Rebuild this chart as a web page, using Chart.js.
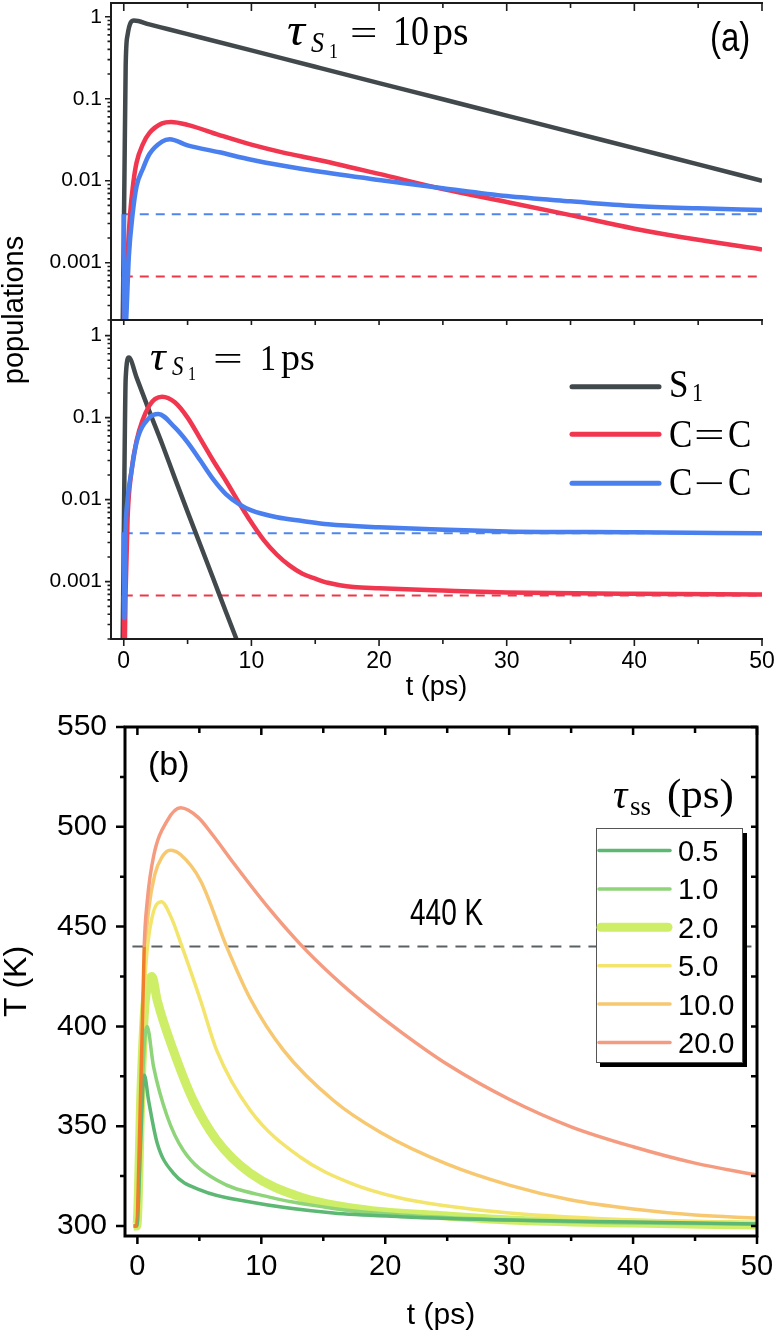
<!DOCTYPE html>
<html>
<head>
<meta charset="utf-8">
<script src="https://cdn.jsdelivr.net/npm/chart.js@4.4.1/dist/chart.umd.min.js"></script>
<style>
  html, body { margin: 0; padding: 0; background: #fff; }
  #page { position: relative; width: 778px; height: 1337px; overflow: hidden; background: #fff; }
  #page canvas { position: absolute; left: 0; }
  #popLabel {
    position: absolute; left: -85px; top: 292px; width: 200px; height: 36px; line-height: 36px;
    text-align: center; font: 29px "Liberation Sans", Arial, sans-serif; color: #000;
    transform: rotate(-90deg);
  }
</style>
</head>
<body>
<div id="page">
  <canvas id="chart-a-top" width="778" height="322" style="top:0px"></canvas>
  <canvas id="chart-a-bottom" width="778" height="387" style="top:318px"></canvas>
  <canvas id="chart-b" width="778" height="637" style="top:700px"></canvas>
  <div id="popLabel">populations</div>
</div>
<script>
// ---- panel (a), tau_S1 = 10 ps ----
var s1Slow_t = [-0.1, 0.05, 0.15, 0.3, 0.8, 2, 3.5, 5, 10, 15, 20, 25, 30, 35, 40, 45, 50];
var s1Slow_p = [0.0001, 0.01, 0.25, 0.6, 0.9, 0.806, 0.703, 0.613, 0.388, 0.245, 0.155, 0.0985, 0.0623, 0.0394, 0.025, 0.0158, 0.01];
var cdcSlow_t = [0, 0.05, 0.15, 0.3, 0.5, 0.75, 1, 1.5, 2, 3, 3.7, 5, 7.5, 10, 12.5, 15, 20, 25, 30, 35, 40, 45, 50];
var cdcSlow_p = [0.00068, 0.0001, 0.00022, 0.0012, 0.004, 0.0095, 0.0166, 0.028, 0.038, 0.05, 0.052, 0.048, 0.036, 0.0275, 0.022, 0.0183, 0.0121, 0.0079, 0.0055, 0.0038, 0.0026, 0.0019, 0.00145];
var ccSlow_t = [0, 0.08, 0.2, 0.4, 0.7, 1, 1.5, 2, 3, 3.6, 5, 7.5, 10, 12.5, 15, 20, 25, 30, 35, 40, 45, 50];
var ccSlow_p = [0.0039, 0.0001, 0.00022, 0.0012, 0.004, 0.0085, 0.014, 0.021, 0.03, 0.032, 0.027, 0.0222, 0.018, 0.0152, 0.0131, 0.0102, 0.0081, 0.0065, 0.0056, 0.0049, 0.0046, 0.0044];

// ---- panel (a), tau_S1 = 1 ps ----
var s1Fast_t = [-0.1, 0.05, 0.15, 0.4, 1, 2, 3, 4, 5, 6, 7, 8, 9];
var s1Fast_p = [0.0001, 0.02, 0.3, 0.54, 0.31, 0.12, 0.048, 0.0183, 0.0071, 0.0028, 0.0011, 0.00043, 0.00017];
var cdcFast_t = [0, 0.06, 0.15, 0.3, 0.6, 1, 2, 3, 4, 5, 6, 7, 8, 9, 10, 11, 12, 13, 14, 15, 16, 18, 20, 25, 30, 40, 50];
var cdcFast_p = [0.00068, 0.00015, 0.0008, 0.006, 0.022, 0.052, 0.14, 0.18, 0.154, 0.1, 0.055, 0.03, 0.017, 0.0093, 0.00525, 0.00316, 0.00213, 0.00157, 0.00125, 0.00109, 0.00097, 0.00086, 0.00083, 0.00078, 0.00074, 0.00071, 0.0007];
var ccFast_t = [0, 0.05, 0.12, 0.3, 0.6, 1, 2, 2.7, 4, 5, 6, 7, 8, 9, 10, 12, 14, 16, 20, 30, 40, 50];
var ccFast_p = [0.004, 0.00036, 0.003, 0.01, 0.022, 0.05, 0.1, 0.111, 0.076, 0.05, 0.03, 0.0178, 0.0117, 0.0089, 0.0074, 0.0061, 0.0055, 0.005, 0.0046, 0.0041, 0.004, 0.0039];

// equilibrium levels (dashed)
var eqTime = [0, 50];
var eqCC = [0.0039, 0.0039];
var eqCdC = [0.00068, 0.00068];

// ---- panel (b), temperature for several tau_ss ----
var tss05_t = [-0.3, -0.05, 0.25, 0.45, 0.56, 0.9, 1.6, 2.9, 5.1, 9.1, 15.8, 21.2, 30, 40, 50];
var tss05_T = [300, 300, 340, 370, 375.5, 363, 341.5, 326.5, 318, 312, 306.5, 304.7, 303, 302, 301];
var tss10_t = [-0.3, -0.05, 0.3, 0.55, 0.78, 1.3, 2.4, 3.7, 6.4, 10.5, 15.8, 21.2, 30, 40, 50];
var tss10_T = [300, 300, 355, 390, 400, 380, 355, 338, 323, 314.7, 308.8, 305.5, 303, 301.5, 301];
var tss20_t = [-0.3, -0.05, 0.3, 0.6, 0.9, 1.18, 1.6, 2.9, 4.5, 6.4, 9.1, 13.1, 18.5, 25, 30, 40, 50];
var tss20_T = [300, 300, 370, 410, 422, 425, 413, 388, 363, 343, 326.5, 314.7, 308, 305, 303, 301.5, 300.5];
var tss50_t = [-0.3, -0.05, 0.4, 0.7, 1.2, 1.94, 2.7, 3.6, 5.1, 6.4, 9.1, 13.1, 17.2, 21.2, 25, 30, 40, 50];
var tss50_T = [300, 300, 395, 432, 455, 462.5, 455, 440, 413, 388, 358, 334.7, 321.5, 314, 310, 306.5, 303, 301.7];
var tss100_t = [-0.3, -0.05, 0.4, 0.6, 0.9, 1.4, 2, 2.66, 3.5, 5.1, 7.2, 9.1, 11.8, 15.8, 19.6, 25, 30, 35, 40, 45, 50];
var tss100_T = [300, 300, 398, 435, 458, 476, 485, 488.3, 486, 473, 440, 414, 388, 363, 347, 331, 320.5, 313, 308.5, 305.5, 304];
var tss200_t = [-0.3, -0.15, 0.4, 0.55, 0.8, 1.3, 2.4, 3.5, 4.9, 6, 7.8, 10.5, 13.1, 15.8, 18.5, 21.2, 25, 30, 35, 40, 45, 50];
var tss200_T = [300, 300, 400, 440, 463, 485, 503, 509.5, 504.7, 496.5, 481.5, 460, 441.5, 425, 410.5, 397.5, 381, 363.5, 349.7, 339.7, 331.5, 325.5];
var hotTime = [-0.4, 50];
var hotLevel = [440, 440];

// ---- ticks ----
var tMajor = [0, 10, 20, 30, 40, 50];
var tMinor = [5, 15, 25, 35, 45];
var popMajor = [0.001, 0.01, 0.1, 1];
var popLabels = ['0.001', '0.01', '0.1', '1'];
var popMinor = [];
[0.0001, 0.001, 0.01, 0.1].forEach(function (d) {
    for (var k = 2; k <= 9; k++) popMinor.push(d * k);
});
var tempMajor = [300, 350, 400, 450, 500, 550];
var tempMinor = [325, 375, 425, 475, 525];

var SERIF = '"Liberation Serif", "DejaVu Serif", serif';
var SANS = '"Liberation Sans", Arial, sans-serif';

function pts(ts, vs) {
    return ts.map(function (t, i) { return {x: t, y: vs[i]}; });
}

function noPad(s) {
    s.paddingTop = 0; s.paddingBottom = 0; s.paddingLeft = 0; s.paddingRight = 0;
}

// axis frame + ticks drawn through the chart scales
var framePlugin = {
    id: 'frame',
    afterDatasetsDraw: function (chart, args, opts) {
        var ctx = chart.ctx, a = chart.chartArea;
        var xs = chart.scales.x, ys = chart.scales.y;
        ctx.save();
        ctx.strokeStyle = opts.color;
        ctx.lineWidth = opts.width;
        ctx.lineCap = 'square';
        ctx.beginPath();
        opts.edges.forEach(function (e) {
            if (e === 'left') { ctx.moveTo(a.left, a.top); ctx.lineTo(a.left, a.bottom); }
            if (e === 'right') { ctx.moveTo(a.right, a.top); ctx.lineTo(a.right, a.bottom); }
            if (e === 'top') { ctx.moveTo(a.left, a.top); ctx.lineTo(a.right, a.top); }
            if (e === 'bottom') { ctx.moveTo(a.left, a.bottom); ctx.lineTo(a.right, a.bottom); }
        });
        ctx.stroke();
        ctx.lineCap = 'butt';
        ctx.lineWidth = opts.tickWidth;
        ctx.beginPath();
        opts.ticks.forEach(function (t) {
            var scale = (t.edge === 'top' || t.edge === 'bottom') ? xs : ys;
            t.values.forEach(function (v) {
                var p = scale.getPixelForValue(v);
                if (t.edge === 'top') { ctx.moveTo(p, a.top); ctx.lineTo(p, a.top + t.len); }
                if (t.edge === 'bottom') { ctx.moveTo(p, a.bottom); ctx.lineTo(p, a.bottom + t.len); }
                if (t.edge === 'left') { ctx.moveTo(a.left, p); ctx.lineTo(a.left - t.len, p); }
                if (t.edge === 'right') { ctx.moveTo(a.right, p); ctx.lineTo(a.right - t.len, p); }
            });
        });
        ctx.stroke();
        ctx.restore();
    }
};

// glyph-by-glyph text (for the math labels)
function drawGlyphs(ctx, list, sy) {
    list.forEach(function (g) {
        ctx.save();
        ctx.fillStyle = g.color || '#000';
        ctx.font = (g.it ? 'italic ' : '') + g.size + 'px ' + (g.sans ? SANS : SERIF);
        ctx.textAlign = 'left';
        ctx.textBaseline = 'alphabetic';
        ctx.translate(g.x, g.y);
        ctx.scale(g.sx || 1, g.sy || sy || 1);
        ctx.fillText(g.t, 0, 0);
        ctx.restore();
    });
}

function popDatasets(s1t, s1p, cdct, cdcp, cct, ccp) {
    return [
        {label: 'S1', data: pts(s1t, s1p), borderColor: '#42494c', borderWidth: 4.5, order: 2},
        {label: 'C=C', data: pts(cdct, cdcp), borderColor: '#f1364f', borderWidth: 4.5, order: 1},
        {label: 'C\u2212C', data: pts(cct, ccp), borderColor: '#4a7fef', borderWidth: 4.5, order: 0},
        {label: 'eqCC', data: pts(eqTime, eqCC), borderColor: '#4f86ee', borderWidth: 2, borderDash: [9, 7], order: 3},
        {label: 'eqCdC', data: pts(eqTime, eqCdC), borderColor: '#ee3848', borderWidth: 2, borderDash: [9, 7], order: 4}
    ];
}

function popOptions(cfg) {
    return {
        responsive: false,
        animation: false,
        layout: {padding: cfg.padding, autoPadding: false},
        elements: {point: {radius: 0}, line: {cubicInterpolationMode: 'monotone', fill: false}},
        plugins: {
            legend: {display: false},
            tooltip: {enabled: false},
            frame: {color: '#1c1c1c', width: 2, tickWidth: 1.6, edges: cfg.edges, ticks: cfg.ticks}
        },
        scales: {
            x: {
                type: 'linear', min: -1, max: 50,
                afterBuildTicks: function (s) { s.ticks = tMajor.map(function (v) { return {value: v}; }); },
                afterFit: function (s) { s.height = cfg.xHeight; noPad(s); },
                ticks: {display: cfg.showX, autoSkip: false, maxRotation: 0, padding: 9, color: '#000',
                        font: {family: SANS, size: 23}},
                grid: {display: false, drawTicks: false},
                border: {display: false},
                title: {display: cfg.showX, text: 't (ps)', color: '#000', font: {family: SANS, size: 27},
                        padding: {top: 0, bottom: 1}}
            },
            y: {
                type: 'logarithmic', min: 0.0002, max: cfg.yMax,
                afterBuildTicks: function (s) { s.ticks = popMajor.map(function (v) { return {value: v}; }); },
                afterFit: function (s) { s.width = 111; noPad(s); },
                ticks: {autoSkip: false, padding: 9, color: '#000', font: {family: SANS, size: 21},
                        callback: function (v) { return popLabels[popMajor.indexOf(v)]; }},
                grid: {display: false, drawTicks: false},
                border: {display: false}
            }
        }
    };
}

// top sub-panel, tau_S1 = 10 ps
var chartATop = new Chart(document.getElementById('chart-a-top'), {
    type: 'line',
    data: {datasets: popDatasets(s1Slow_t, s1Slow_p, cdcSlow_t, cdcSlow_p, ccSlow_t, ccSlow_p)},
    options: popOptions({
        padding: {left: 0, top: 3, right: 16, bottom: 2}, xHeight: 0, showX: false, yMax: 1.47,
        edges: ['left', 'top'],
        ticks: [
            {edge: 'top', values: tMajor, len: 8}, {edge: 'top', values: tMinor, len: 5},
            {edge: 'left', values: popMajor, len: 6}, {edge: 'left', values: popMinor, len: 3.5}
        ]
    }),
    plugins: [framePlugin, {
        id: 'notesATop',
        afterDraw: function (chart) {
            var ctx = chart.ctx;
            drawGlyphs(ctx, [
                {t: '\u03c4', x: 287, y: 45, size: 40, it: true, sx: 1.25},
                {t: 'S', x: 311, y: 52, size: 26, it: true},
                {t: '1', x: 329, y: 58, size: 18},
                {t: '=', x: 350, y: 45, size: 36, sx: 1.35, sy: 1},
                {t: '10', x: 393, y: 45, size: 36},
                {t: 'ps', x: 433, y: 45, size: 40, sy: 1.05}
            ], 1.15);
            drawGlyphs(ctx, [{t: '(a)', x: 710, y: 51, size: 33, sans: true}], 1.25);
        }
    }]
});

// bottom sub-panel, tau_S1 = 1 ps
var chartABottom = new Chart(document.getElementById('chart-a-bottom'), {
    type: 'line',
    data: {datasets: popDatasets(s1Fast_t, s1Fast_p, cdcFast_t, cdcFast_p, ccFast_t, ccFast_p)},
    options: popOptions({
        padding: {left: 0, top: 2, right: 16, bottom: 0}, xHeight: 66, showX: true, yMax: 1.55,
        edges: ['left', 'top', 'bottom'],
        ticks: [
            {edge: 'top', values: tMajor, len: 5}, {edge: 'top', values: tMinor, len: 5},
            {edge: 'bottom', values: tMajor, len: 7}, {edge: 'bottom', values: tMinor, len: 5},
            {edge: 'left', values: popMajor, len: 6}, {edge: 'left', values: popMinor, len: 3.5}
        ]
    }),
    plugins: [framePlugin, {
        id: 'notesABottom',
        afterDraw: function (chart) {
            var ctx = chart.ctx;
            drawGlyphs(ctx, [
                {t: '\u03c4', x: 150, y: 52, size: 35, it: true, sx: 1.25},
                {t: 'S', x: 172, y: 57, size: 23, it: true},
                {t: '1', x: 188, y: 62, size: 16},
                {t: '=', x: 213, y: 52, size: 33, sx: 1.6, sy: 1},
                {t: '1', x: 260, y: 52, size: 32},
                {t: 'ps', x: 281, y: 52, size: 38, sy: 1.02}
            ], 1.15);
            // legend
            var rows = [68.7, 116.3, 165.3];
            var texts = [
                [{t: 'S', x: 669, y: 78.7, size: 35}, {t: '1', x: 692, y: 83, size: 22}],
                [{t: 'C', x: 669, y: 129, size: 35}, {t: '=', x: 694, y: 129, size: 35, sx: 1.55, sy: 1}, {t: 'C', x: 728, y: 129, size: 35}],
                [{t: 'C', x: 669, y: 177, size: 35}, {t: '\u2212', x: 694, y: 177, size: 35, sx: 1.55, sy: 1}, {t: 'C', x: 728, y: 177, size: 35}]
            ];
            for (var i = 0; i < 3; i++) {
                var ds = chart.data.datasets[i];
                ctx.save();
                ctx.strokeStyle = ds.borderColor;
                ctx.lineWidth = 5;
                ctx.lineCap = 'round';
                ctx.beginPath();
                ctx.moveTo(572, rows[i]);
                ctx.lineTo(659, rows[i]);
                ctx.stroke();
                ctx.restore();
                drawGlyphs(ctx, texts[i], 1.15);
            }
        }
    }]
});

// panel (b)
var tssColors = ['#5db874', '#8ed479', '#cdee66', '#f3e46c', '#f7c870', '#f59b80'];
var chartB = new Chart(document.getElementById('chart-b'), {
    type: 'line',
    data: {
        datasets: [
            {label: '0.5', data: pts(tss05_t, tss05_T), borderColor: tssColors[0], borderWidth: 3.5, order: 1},
            {label: '1.0', data: pts(tss10_t, tss10_T), borderColor: tssColors[1], borderWidth: 3.5, order: 2},
            {label: '2.0', data: pts(tss20_t, tss20_T), borderColor: tssColors[2], borderWidth: 9, order: 5},
            {label: '5.0', data: pts(tss50_t, tss50_T), borderColor: tssColors[3], borderWidth: 3.5, order: 3},
            {label: '10.0', data: pts(tss100_t, tss100_T), borderColor: tssColors[4], borderWidth: 3.5, order: 4},
            {label: '20.0', data: pts(tss200_t, tss200_T), borderColor: tssColors[5], borderWidth: 3.5, order: 0,
             segment: {borderColor: function (c) { return c.p1.parsed.x <= 0.55 ? '#f07f2c' : undefined; }}},
            {label: '440 K', data: pts(hotTime, hotLevel), borderColor: '#596165', borderWidth: 2, borderDash: [11, 8], order: 6}
        ]
    },
    options: {
        responsive: false,
        animation: false,
        layout: {padding: {left: 0, top: 27, right: 21, bottom: 0}, autoPadding: false},
        elements: {point: {radius: 0}, line: {cubicInterpolationMode: 'monotone', fill: false}},
        plugins: {
            legend: {display: false},
            tooltip: {enabled: false},
            frame: {
                color: '#000', width: 3, tickWidth: 2.5, edges: ['left', 'right', 'top', 'bottom'],
                ticks: [
                    {edge: 'bottom', values: tMajor, len: 8}, {edge: 'bottom', values: tMinor, len: 5},
                    {edge: 'top', values: tMajor, len: 8}, {edge: 'top', values: tMinor, len: 6},
                    {edge: 'left', values: tempMajor, len: 9}, {edge: 'left', values: tempMinor, len: 5},
                    {edge: 'right', values: tempMajor, len: 6}, {edge: 'right', values: tempMinor, len: 6}
                ]
            }
        },
        scales: {
            x: {
                type: 'linear', min: -1, max: 50,
                afterBuildTicks: function (s) { s.ticks = tMajor.map(function (v) { return {value: v}; }); },
                afterFit: function (s) { s.height = 101; noPad(s); },
                ticks: {autoSkip: false, maxRotation: 0, padding: 14, color: '#000', font: {family: SANS, size: 29}},
                grid: {display: false, drawTicks: false},
                border: {display: false},
                title: {display: true, text: 't (ps)', color: '#000', font: {family: SANS, size: 30},
                        padding: {top: 0, bottom: 3}}
            },
            y: {
                type: 'linear', min: 295, max: 550,
                afterBuildTicks: function (s) { s.ticks = tempMajor.map(function (v) { return {value: v}; }); },
                afterFit: function (s) { s.width = 125; noPad(s); },
                ticks: {autoSkip: false, padding: 18, color: '#000', font: {family: SANS, size: 30}},
                grid: {display: false, drawTicks: false},
                border: {display: false},
                title: {display: true, text: 'T (K)', color: '#000', font: {family: SANS, size: 32},
                        padding: {top: -2, bottom: 0}}
            }
        }
    },
    plugins: [framePlugin, {
        id: 'notesB',
        afterDraw: function (chart) {
            var ctx = chart.ctx;
            drawGlyphs(ctx, [{t: '(b)', x: 148, y: 75, size: 34, sans: true}], 1);
            drawGlyphs(ctx, [{t: '440 K', x: 410, y: 225, size: 28, sans: true}], 1.3);
            // legend box with shadow
            ctx.save();
            ctx.fillStyle = '#000';
            ctx.fillRect(743, 133, 4, 234);
            ctx.fillRect(600, 363, 147, 4);
            ctx.fillStyle = '#fff';
            ctx.fillRect(596, 128, 147, 235);
            ctx.strokeStyle = '#555';
            ctx.lineWidth = 1;
            ctx.strokeRect(596.5, 128.5, 146, 234);
            ctx.restore();
            drawGlyphs(ctx, [
                {t: '\u03c4', x: 613, y: 108, size: 40, it: true},
                {t: 'ss', x: 630, y: 115, size: 27},
                {t: '(ps)', x: 667, y: 108, size: 43}
            ], 1);
            for (var i = 0; i < 6; i++) {
                var ds = chart.data.datasets[i];
                var cy = 150.5 + i * 38.4;
                ctx.save();
                ctx.strokeStyle = ds.borderColor;
                ctx.lineWidth = ds.borderWidth;
                ctx.lineCap = 'round';
                ctx.beginPath();
                ctx.moveTo(ds.borderWidth > 5 ? 601 : 599, cy);
                ctx.lineTo(ds.borderWidth > 5 ? 668 : 670, cy);
                ctx.stroke();
                ctx.restore();
                drawGlyphs(ctx, [{t: ds.label, x: 678, y: cy + 10.5, size: 29, sans: true}], 1);
            }
        }
    }]
});
</script>
</body>
</html>
